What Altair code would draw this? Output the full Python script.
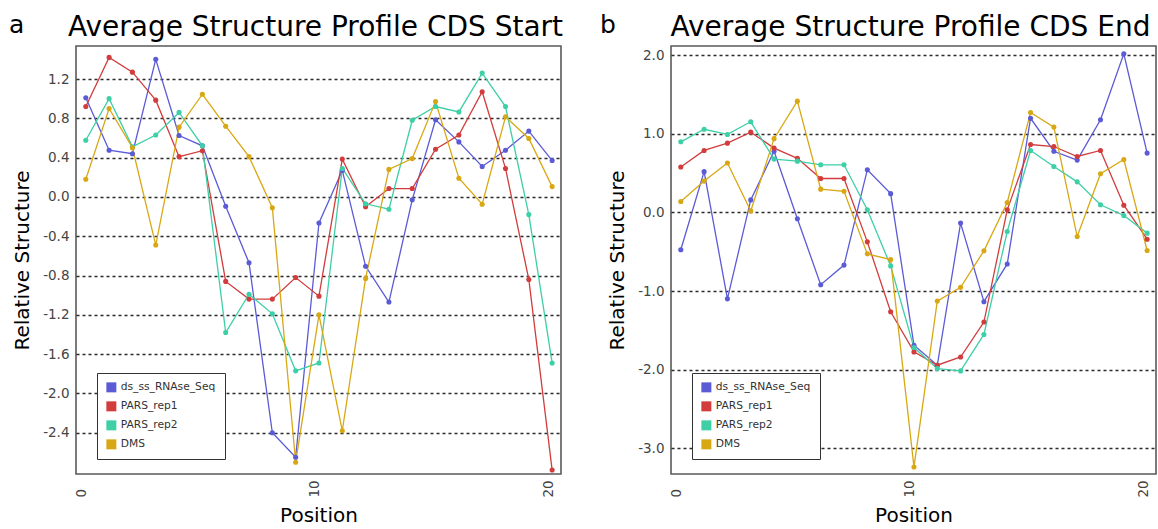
import altair as alt
import pandas as pd

positions = list(range(21))
series = ["ds_ss_RNAse_Seq", "PARS_rep1", "PARS_rep2", "DMS"]
colors = ["#5b5bd6", "#d23c3c", "#3dcfa6", "#d8a814"]

# Panel a: CDS start
a_ds = [1.01, 0.475, 0.44, 1.40, 0.625, 0.52, -0.095, -0.67, -2.40, -2.65, -0.265,
        0.27, -0.706, -1.07, -0.03, 0.785, 0.56, 0.31, 0.475, 0.67, 0.37]
a_p1 = [0.92, 1.42, 1.27, 0.985, 0.41, 0.47, -0.86, -1.04, -1.04, -0.82, -1.01,
        0.385, -0.10, 0.085, 0.085, 0.485, 0.63, 1.07, 0.29, -0.84, -2.78]
a_p2 = [0.577, 1.0, 0.51, 0.63, 0.86, 0.52, -1.38, -0.99, -1.19, -1.77, -1.69,
        0.29, -0.07, -0.125, 0.78, 0.92, 0.865, 1.26, 0.92, -0.18, -1.69]
a_dms = [0.18, 0.90, 0.50, -0.49, 0.71, 1.045, 0.72, 0.41, -0.11, -2.70, -1.20,
         -2.38, -0.83, 0.28, 0.39, 0.97, 0.19, -0.075, 0.815, 0.595, 0.105]

# Panel b: CDS end
b_ds = [-0.475, 0.52, -1.1, 0.16, 0.78, -0.08, -0.92, -0.67, 0.545, 0.24, -1.69,
        -1.945, -0.135, -1.136, -0.655, 1.20, 0.78, 0.667, 1.18, 2.02, 0.756]
b_p1 = [0.58, 0.79, 0.883, 1.023, 0.82, 0.69, 0.433, 0.433, -0.374, -1.264, -1.775,
        -1.945, -1.84, -1.395, 0.034, 0.866, 0.84, 0.713, 0.79, 0.093, -0.34]
b_p2 = [0.90, 1.06, 0.994, 1.155, 0.68, 0.654, 0.607, 0.607, 0.034, -0.68, -1.72,
        -1.987, -2.017, -1.553, -0.242, 0.79, 0.586, 0.39, 0.098, -0.038, -0.263]
b_dms = [0.14, 0.40, 0.63, 0.02, 0.94, 1.418, 0.297, 0.27, -0.527, -0.60, -3.24,
         -1.128, -0.953, -0.488, 0.127, 1.274, 1.087, -0.306, 0.493, 0.675, -0.484]

a_ticks = [-2.4, -2.0, -1.6, -1.2, -0.8, -0.4, 0.0, 0.4, 0.8, 1.2]
b_ticks = [-3.0, -2.0, -1.0, 0.0, 1.0, 2.0]
x_ticks = [0, 10, 20]

FONT = "DejaVu Sans"
W, H = 485, 428


def panel(values, title, letter, ydom, yticks, letter_dx):
    rows = []
    for name, vals in zip(series, values):
        for p, v in zip(positions, vals):
            rows.append({"pos": p, "val": v, "series": name})
    df = pd.DataFrame(rows)
    lines = alt.Chart(df).mark_line(
        strokeWidth=1.3,
        point=alt.OverlayMarkDef(filled=True, size=26, opacity=1),
    ).encode(
        x=alt.X("pos:Q",
                scale=alt.Scale(domain=[-0.42, 20.38], nice=False, zero=False),
                axis=alt.Axis(values=x_ticks, title="Position", labelAngle=270,
                              labelAlign="left", labelBaseline="middle",
                              labelPadding=23, labelOffset=-4, titlePadding=8,
                              grid=False, format="d")),
        y=alt.Y("val:Q",
                scale=alt.Scale(domain=ydom, nice=False, zero=False),
                axis=alt.Axis(values=yticks, title="Relative Structure",
                              labelExpr="replace(format(datum.value, '.1f'), '\u2212', '-')",
                              labelPadding=7, titlePadding=10)),
        color=alt.Color("series:N",
                        scale=alt.Scale(domain=series, range=colors),
                        legend=alt.Legend(title=None, orient="none",
                                          legendX=21, legendY=327,
                                          symbolType="square", symbolSize=100,
                                          symbolStrokeWidth=0, symbolOpacity=1,
                                          labelFontSize=10.7, labelFont=FONT,
                                          labelColor="#333",
                                          strokeColor="#333", fillColor="white",
                                          padding=9, rowPadding=7,
                                          symbolOffset=0, labelOffset=4)),
    )
    txt = pd.DataFrame({"t": [letter, title],
                        "kind": ["letter", "title"]})
    lab = alt.Chart(txt).transform_filter("datum.kind == 'letter'").mark_text(
        fontSize=25, font=FONT, align="left", baseline="alphabetic", color="black"
    ).encode(x=alt.value(letter_dx), y=alt.value(-13), text="t:N")
    ttl = alt.Chart(txt).transform_filter("datum.kind == 'title'").mark_text(
        fontSize=28, font=FONT, align="center", baseline="alphabetic", color="black"
    ).encode(x=alt.value(W / 2 - 3), y=alt.value(-10), text="t:N")
    return alt.layer(lines, lab, ttl).properties(width=W, height=H)


pa = panel([a_ds, a_p1, a_p2, a_dms], "Average Structure Profile CDS Start", "a",
           [-2.82, 1.536], a_ticks, -67)
pb = panel([b_ds, b_p1, b_p2, b_dms], "Average Structure Profile CDS End", "b",
           [-3.33, 2.12], b_ticks, -71)

chart = alt.hconcat(pa, pb, spacing=110, bounds="flush").resolve_scale(
    color="independent", y="independent"
).resolve_legend(color="independent").properties(
    padding={"left": 8, "top": 12, "right": 0, "bottom": 0}
).configure(
    font=FONT, background="white"
).configure_view(
    stroke="#5a5a5a", strokeWidth=1.6
).configure_axis(
    domain=False, ticks=False, labelFont=FONT, labelFontSize=13.5, labelColor="#444",
    titleFont=FONT, titleFontSize=20, titleFontWeight="normal", titleColor="black",
).configure_axisY(
    grid=True, gridDash=[3, 3], gridColor="#2a2a2a", gridWidth=1.3, gridOpacity=1,
)

chart.save("out.html", embed_options={"renderer": "svg", "actions": False})
